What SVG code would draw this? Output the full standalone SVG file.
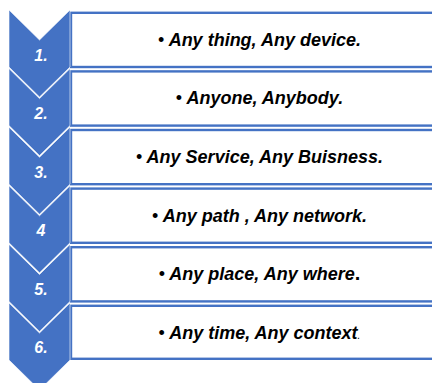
<svg xmlns="http://www.w3.org/2000/svg" width="432" height="383" viewBox="0 0 432 383">
<style>
.box{fill:#fff;stroke:#4472C4;stroke-width:2.4}
.chev{fill:#4472C4;stroke:#fff;stroke-width:0.6}
.t{font-family:"Liberation Sans",Arial,sans-serif;font-weight:bold;font-style:italic;font-size:18px;fill:#000;text-anchor:middle}
.n{font-family:"Liberation Sans",Arial,sans-serif;font-weight:bold;font-style:italic;font-size:16px;fill:#fff;text-anchor:middle}
.b{font-style:normal;font-weight:normal}
</style>
<rect width="432" height="383" fill="#fff"/>
<g id="row1"><rect class="box" x="71" y="12.8" width="440" height="54.2"/><text class="t" x="259.5" y="45.6"><tspan class="b">•</tspan> Any thing, Any device.</text></g>
<g id="row2"><rect class="box" x="71" y="71.4" width="440" height="54.2"/><text class="t" x="259.5" y="104.2"><tspan class="b">•</tspan> Anyone, Anybody.</text></g>
<g id="row3"><rect class="box" x="71" y="130" width="440" height="54.2"/><text class="t" x="259.5" y="163"><tspan class="b">•</tspan> Any Service, Any Buisness.</text></g>
<g id="row4"><rect class="box" x="71" y="188.6" width="440" height="54.2"/><text class="t" x="259.5" y="221.6"><tspan class="b">•</tspan> Any path , Any network.</text></g>
<g id="row5"><rect class="box" x="71" y="247.2" width="440" height="54.2"/><text class="t" x="259.5" y="280.2"><tspan class="b">•</tspan> Any place, Any where<tspan font-style="normal" font-size="20">.</tspan></text></g>
<g id="row6"><rect class="box" x="71" y="305.8" width="440" height="53"/><text class="t" x="259.5" y="338.6"><tspan class="b">•</tspan> Any time, Any context<tspan font-size="10" font-weight="normal">.</tspan></text></g>
<g id="chevron1"><path class="chev" d="M9,10 L39.5,40 L70,10 L70,67 L39.5,97 L9,67 Z"/><text class="n" x="41" y="60.6">1.</text></g>
<g id="chevron2"><path class="chev" d="M9,68.6 L39.5,98.6 L70,68.6 L70,125.6 L39.5,155.6 L9,125.6 Z"/><text class="n" x="41" y="119.2">2.</text></g>
<g id="chevron3"><path class="chev" d="M9,127.2 L39.5,157.2 L70,127.2 L70,184.2 L39.5,214.2 L9,184.2 Z"/><text class="n" x="41" y="177.8">3.</text></g>
<g id="chevron4"><path class="chev" d="M9,185.8 L39.5,215.8 L70,185.8 L70,242.8 L39.5,272.8 L9,242.8 Z"/><text class="n" x="41" y="236.4">4</text></g>
<g id="chevron5"><path class="chev" d="M9,244.4 L39.5,274.4 L70,244.4 L70,301.4 L39.5,331.4 L9,301.4 Z"/><text class="n" x="41" y="295">5.</text></g>
<g id="chevron6"><path class="chev" d="M9,303 L39.5,333 L70,303 L70,360 L39.5,390 L9,360 Z"/><text class="n" x="41" y="352.6">6.</text></g>
<g id="connectors"/>
</svg>
